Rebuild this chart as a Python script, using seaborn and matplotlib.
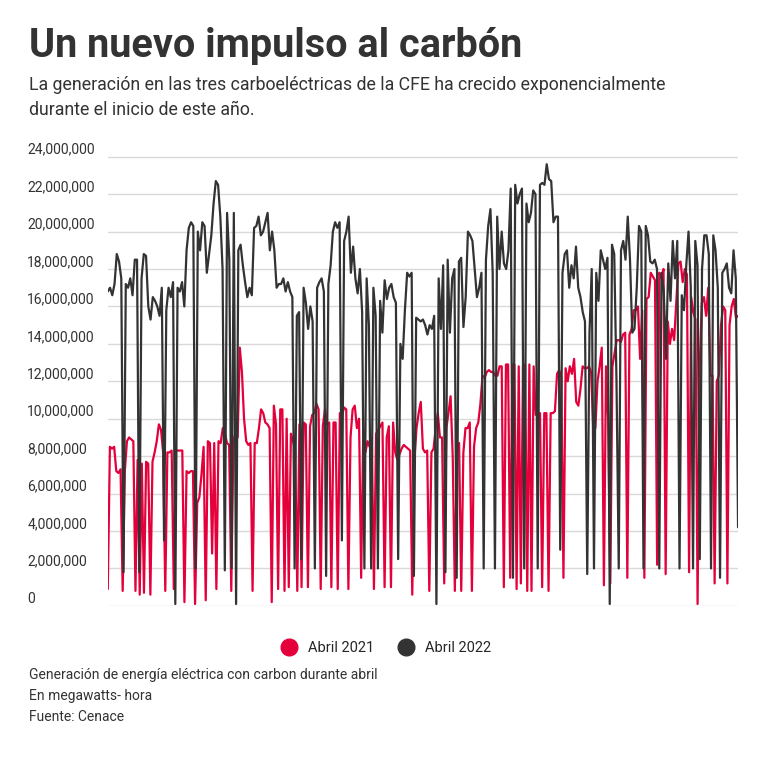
import numpy as np
import pandas as pd
import seaborn as sns
import matplotlib.pyplot as plt
from matplotlib.lines import Line2D
from matplotlib.ticker import FuncFormatter

# Generación horaria aproximada (millones de MWh)
abril_2022 = [16.8,17,16.6,17.2,18.8,18.4,17.5,1.8,17.2,17,17.5,16.6,18.5,18.5,1.8,17.5,18.8,18.7,16,15.3,16.5,16.3,16,15.5,17,3.5,15.8,17,16.5,17.3,0.1,17,16.8,17.3,16,19,20.2,20.5,20.3,2,20,19,20.5,20.3,17.8,18.8,19.8,21.5,22.7,22.5,20.8,18,1.9,21,18.5,2,21,0.1,19,19.3,18.2,17.3,16.5,17,16.6,20.2,20.3,20.8,19.8,20,20.5,21,19,20,19,17,17.2,17.2,17.5,16.8,17.3,16.8,16.5,2,15.5,15.7,2.5,17,16.2,14.8,16,15.2,2,17,17.3,17.5,16.8,1.6,17.2,18.2,20,20.5,20.2,20.5,3.5,19.5,20,20.8,17.8,19.2,17.5,16.7,18,15.7,2,17.5,15,2,17,15.5,2,16.3,14.6,17.4,16.4,17,17.2,16.5,16.2,2.5,14,13.2,15.8,17.8,17.6,17.8,1.6,15.4,15.3,15.2,
              15.3,15,14.5,15,14.8,15.5,0.1,17.5,14.8,18.2,1.8,18.5,14.6,17.5,18,1.5,18.4,18.6,14.9,16.5,20,19.8,19.5,18,16.5,17,17.8,2,18.5,20.3,21.2,17.8,2,20.8,18,20,18.3,18,19,22.3,1.5,22.5,21.5,22,22.3,2,21.5,20.5,21,22.2,22,2,22.5,22.6,22.5,23.6,22.8,22.7,20.5,20.8,20.8,3,17.8,18.8,19,17,18.2,17.5,19.2,17,16.5,15.7,15.2,1.7,14.6,18,2,17.8,16.3,19,18.5,18,18.6,0.1,19.3,18.8,12,2,19,19.5,18.5,20.8,18.5,14.6,14.8,17,20.3,20,2,20.3,19.8,18.4,18.3,18.5,18,2,17.8,16.8,13.2,18.3,16.3,19.5,17.5,19.5,2,16.6,15.8,18.2,20,17,2,19.5,18.2,2.5,18,19.8,19.8,18.8,2,19.8,19,17,1.5,17.8,18,18.3,17,16.7,19,17.5,4.2]
abril_2021 = [0.9,8.5,8.4,8.5,7.2,7.1,7.3,0.8,7.2,8.8,9,8.9,8.8,0.8,7.8,0.6,7.6,0.7,7.7,7.6,0.6,7.7,8.2,8.8,9.7,9.4,8.2,0.8,8.2,8.2,8.3,0.9,8.3,8.3,8.3,8.3,0.2,7.2,7.1,7.2,7.2,0.1,5.5,5.8,7,8.5,0.3,8.8,8.7,2.8,8.7,0.9,8.8,8.7,9.5,9.2,8.7,8.6,0.8,8.8,9.3,9,13.8,12.5,10,8.8,8.6,8.7,0.8,8.7,8.7,9.5,10.5,10.3,9.8,9.7,9.5,0.2,10.7,9.7,0.9,10.5,10.5,0.8,10,1,9.2,8.8,8.4,0.8,9.7,1.0,9.8,9.7,1,9.6,10.2,10.3,10.8,10.5,0.9,9.6,10.5,9.7,9.8,1,9.8,9.8,0.9,10.3,10.2,10.6,10.5,0.9,9,10.5,10.7,9.5,10,1.5,9.4,8.2,8.8,8.5,8.9,0.9,9.2,9.4,9.6,9.8,1,9,9.6,1,9.8,8.2,7.8,8.1,8.4,8.6,8.5,8.4,8.3,0.6,
              7.8,9.5,10.3,10.9,8.4,8.2,8.3,0.8,8.2,8.4,9.5,10.3,9,9,1.2,9.5,10.3,11.2,8,0.8,8.7,8.7,0.8,8.2,9.5,9.5,9.8,0.8,8.5,9.5,9.8,10.8,12.3,12.2,12.5,12.6,12.5,12.5,12.3,12.3,12.8,12.8,1,12.9,12.9,1.5,12.9,12.9,0.9,12.8,1.2,12.8,12.9,0.8,12.9,0.8,12.8,10.2,10.3,10.3,1,10.3,10.3,0.8,10.3,10.3,10.4,12.4,12.6,12.2,1.5,12.7,12,12.8,12.4,13.2,10.9,10.7,11.6,12.8,12.7,12.7,12.8,12.5,9.5,9.5,12,12.8,13.8,1.1,12.8,10,1.2,12.8,13.5,14.2,14.2,14.1,14.5,14.6,1.5,14.5,14.8,15.8,15.8,16,13.2,15.8,1.5,16.4,16.5,17.8,17.6,17.4,2.2,17.8,17.5,18,1.7,15.2,14,14.8,14.2,16.3,18.3,18.4,17.3,18,17.7,1.8,16.5,15.7,15.3,0.1,12.8,16.2,16.5,15.5,17,12.3,12.3,1.2,12,12.3,15,16,15.8,1.2,15,16,16.4,15.4,15.5]

df = pd.concat([
    pd.DataFrame({'hora': np.linspace(0, 719, len(abril_2021)), 'mwh': np.array(abril_2021) * 1e6, 'serie': 'Abril 2021'}),
    pd.DataFrame({'hora': np.linspace(0, 719, len(abril_2022)), 'mwh': np.array(abril_2022) * 1e6, 'serie': 'Abril 2022'}),
])

sns.set_style('white')
plt.rcParams['font.family'] = ['Roboto', 'DejaVu Sans']

fig = plt.figure(figsize=(7.81, 7.65), dpi=100)
ax = fig.add_axes([0.138, 0.208, 0.807, 0.592])
sns.lineplot(data=df, x='hora', y='mwh', hue='serie', palette={'Abril 2021': '#e4003b', 'Abril 2022': '#333333'},
             linewidth=1.6, legend=False, ax=ax)
ax.set_xlim(0, 719)
ax.set_ylim(0, 24.2e6)
ax.set_yticks(np.arange(0, 24.1e6, 2e6))
ax.yaxis.set_major_formatter(FuncFormatter(lambda v, p: f'{v:,.0f}'))
ax.grid(axis='y', color='#d9d9d9', linewidth=1)
ax.set_xticks([])
ax.set_xlabel('')
ax.set_ylabel('')
for s in ax.spines.values():
    s.set_visible(False)
for lbl in ax.get_yticklabels():
    lbl.set_horizontalalignment('left')
    lbl.set_verticalalignment('bottom')
ax.tick_params(axis='y', length=0, labelsize=10, labelcolor='#333333')
ax.yaxis.set_tick_params(pad=58)

fig.text(0.037, 0.925, 'Un nuevo impulso al carbón', fontsize=28.5, fontweight='bold', color='#333333')
fig.text(0.037, 0.85, 'La generación en las tres carboeléctricas de la CFE ha crecido exponencialmente\ndurante el inicio de este año.',
         fontsize=12.8, color='#333333', linespacing=1.45)

handles = [Line2D([], [], marker='o', linestyle='', markersize=12, color=c) for c in ['#e4003b', '#333333']]
fig.legend(handles, ['Abril 2021', 'Abril 2022'], loc='center', bbox_to_anchor=(0.49, 0.153), ncol=2,
           frameon=False, fontsize=10.5, handletextpad=0.3, columnspacing=1.2)

fig.text(0.037, 0.113, 'Generación de energía eléctrica con carbon durante abril', fontsize=10, color='#333333')
fig.text(0.037, 0.085, 'En megawatts- hora', fontsize=10, color='#333333')
fig.text(0.037, 0.057, 'Fuente: Cenace', fontsize=10, color='#333333')

fig.savefig('out.png', dpi=100)
